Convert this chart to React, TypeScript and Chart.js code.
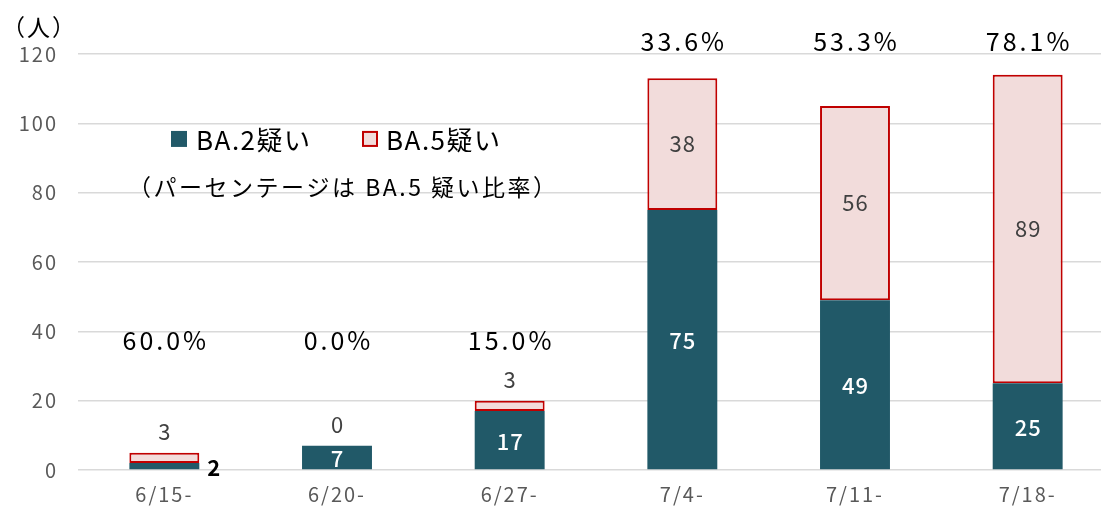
import React, { useEffect, useRef } from "react";
import { Chart, registerables } from "chart.js";

Chart.register(...registerables);

const categories = ["6/15-", "6/20-", "6/27-", "7/4-", "7/11-", "7/18-"];
const ba2Values = [2, 7, 17, 75, 49, 25];
const ba5Values = [3, 0, 3, 38, 56, 89];
const ratioLabels = ["60.0%", "0.0%", "15.0%", "33.6%", "53.3%", "78.1%"];
const seriesNames = ["BA.2疑い", "BA.5疑い"];
const noteText = "（パーセンテージは BA.5 疑い比率）";
const unitText = "（人）";
const yMax = 120;
const yStep = 20;

const FONT = "'Noto Sans CJK JP', 'Noto Sans', sans-serif";
const TEAL = "#215968";
const PINK = "#F2DCDB";
const RED = "#C00000";

const spacingPlugin = {
  id: "spacing",
  beforeDraw(chart: any) {
    chart.ctx.letterSpacing = "2px";
  },
};

const labelPlugin = {
  id: "customLabels",
  afterDatasetsDraw(chart: any) {
    const ctx = chart.ctx;
    const area = chart.chartArea;
    const yScale = chart.scales.y;
    ctx.save();
    ctx.textBaseline = "middle";
    ctx.textAlign = "center";

    // BA.2 labels
    ctx.letterSpacing = "1px";
    const m0 = chart.getDatasetMeta(0);
    m0.data.forEach((bar: any, i: number) => {
      const h = bar.base - bar.y;
      const v = ba2Values[i];
      if (h > 18) {
        ctx.fillStyle = "#ffffff";
        ctx.font = `500 22px ${FONT}`;
        ctx.textAlign = "center";
        ctx.fillText(String(v), bar.x + 0.5, (bar.y + bar.base) / 2 + 1);
      } else {
        ctx.fillStyle = "#000000";
        ctx.font = `bold 22px ${FONT}`;
        ctx.textAlign = "left";
        ctx.fillText(String(v), bar.x + bar.width / 2 + 8, (bar.y + bar.base) / 2 + 1);
      }
    });

    // BA.5 labels
    const m1 = chart.getDatasetMeta(1);
    m1.data.forEach((bar: any, i: number) => {
      const h = bar.base - bar.y;
      const v = ba5Values[i];
      ctx.fillStyle = "#404040";
      ctx.font = `400 22px ${FONT}`;
      ctx.textAlign = "center";
      if (h > 40) {
        ctx.fillText(String(v), bar.x + 0.5, (bar.y + bar.base) / 2);
      } else {
        ctx.fillText(String(v), bar.x + 0.5, bar.y - 21);
      }
    });

    // Ratio labels
    ctx.letterSpacing = "3px";
    ctx.fillStyle = "#000000";
    ctx.font = `400 25px ${FONT}`;
    m1.data.forEach((bar: any, i: number) => {
      const total = ba2Values[i] + ba5Values[i];
      const y = total > 60 ? area.top - 13 : yScale.getPixelForValue(37.5);
      ctx.fillText(ratioLabels[i], bar.x + 1.5, y);
    });

    // Legend
    const lx = area.left + 93;
    const ly = yScale.getPixelForValue(95.5);
    ctx.letterSpacing = "1.5px";
    ctx.textAlign = "left";
    ctx.font = `400 26px ${FONT}`;
    ctx.fillStyle = TEAL;
    ctx.fillRect(lx, ly - 8, 16, 16);
    ctx.fillStyle = "#000000";
    ctx.fillText(seriesNames[0], lx + 25, ly + 1);
    const lx2 = lx + 191;
    ctx.fillStyle = PINK;
    ctx.fillRect(lx2, ly - 8, 16, 16);
    ctx.strokeStyle = RED;
    ctx.lineWidth = 2;
    ctx.strokeRect(lx2 + 1, ly - 7, 14, 14);
    ctx.fillStyle = "#000000";
    ctx.fillText(seriesNames[1], lx2 + 24, ly + 1);

    // Note
    ctx.letterSpacing = "2.5px";
    ctx.font = `400 23px ${FONT}`;
    ctx.fillText(noteText, area.left + 50, yScale.getPixelForValue(81.5));

    // Unit
    ctx.letterSpacing = "2px";
    ctx.font = `400 23px ${FONT}`;
    ctx.fillText(unitText, 2, 27);
    ctx.restore();
  },
};

export default function App() {
  const ref = useRef<HTMLCanvasElement | null>(null);
  useEffect(() => {
    if (!ref.current) return;
    const chart = new Chart(ref.current, {
      type: "bar",
      data: {
        labels: categories,
        datasets: [
          {
            label: seriesNames[0],
            data: ba2Values,
            backgroundColor: TEAL,
            borderWidth: 0,
          },
          {
            label: seriesNames[1],
            data: ba5Values,
            backgroundColor: PINK,
            borderColor: RED,
            borderWidth: (c: any) => (c.raw === 0 ? 0 : 2),
            borderSkipped: false,
          },
        ],
      },
      options: {
        animation: false,
        responsive: true,
        maintainAspectRatio: false,
        layout: { padding: { top: 54, right: 6, left: 0, bottom: 0 } },
        datasets: { bar: { categoryPercentage: 1, barPercentage: 0.405 } },
        plugins: {
          legend: { display: false },
          tooltip: { enabled: false },
        },
        scales: {
          x: {
            stacked: true,
            grid: { display: false, drawTicks: false },
            border: { display: false },
            ticks: { color: "#595959", font: { family: FONT, size: 20 }, padding: 12 },
            afterFit: (s: any) => {
              s.height = 36;
            },
          },
          y: {
            stacked: true,
            min: 0,
            max: yMax,
            grid: { color: "#D9D9D9", lineWidth: 1.5, drawTicks: false },
            border: { display: false },
            ticks: {
              stepSize: yStep,
              color: "#595959",
              font: { family: FONT, size: 20 },
              padding: 20,
            },
            afterFit: (s: any) => {
              s.width = 78;
            },
          },
        },
      },
      plugins: [spacingPlugin, labelPlugin],
    });
    return () => chart.destroy();
  }, []);
  return (
    <div
      style={{
        position: "fixed",
        left: 0,
        top: 0,
        width: 1101,
        height: 506,
        overflow: "hidden",
        background: "#fff",
      }}
    >
      <div style={{ width: 1120, height: 506 }}>
        <canvas ref={ref} />
      </div>
    </div>
  );
}
